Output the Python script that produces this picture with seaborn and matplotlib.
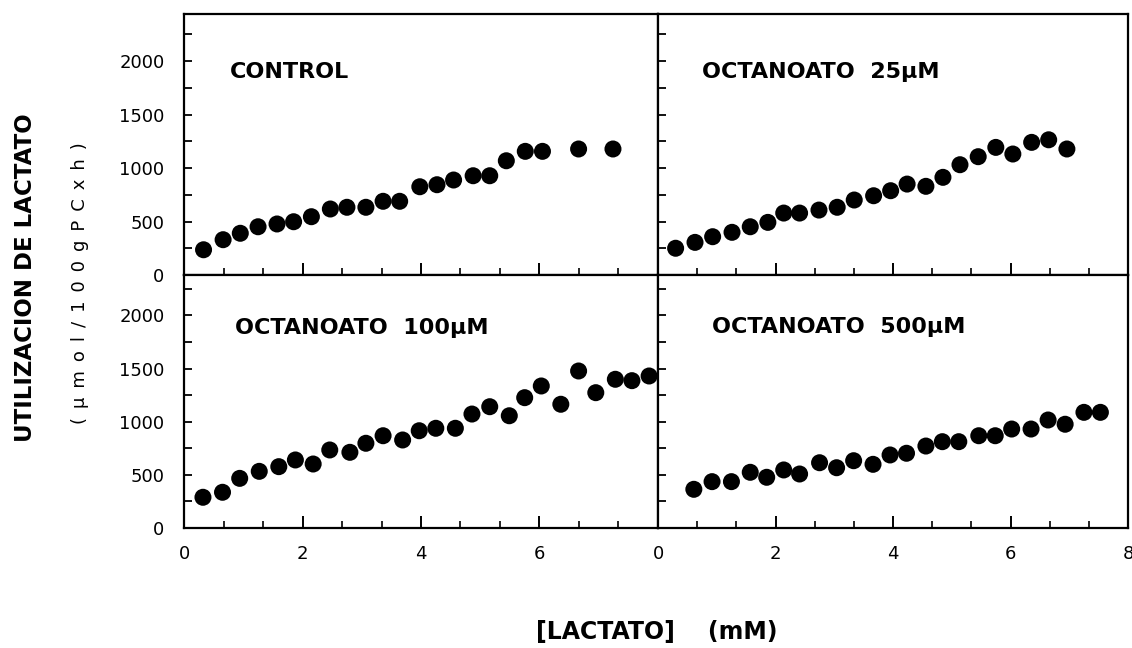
import matplotlib
matplotlib.use("Agg")
import matplotlib.pyplot as plt
import seaborn as sns
import numpy as np
import pandas as pd
from matplotlib.ticker import MultipleLocator, FixedLocator

sns.set_theme(style="white")
plt.rcParams['font.family'] = ['DejaVu Sans']

# ---- data ----
control_x = [0.33, 0.66, 0.95, 1.25, 1.57, 1.85, 2.15, 2.47, 2.75, 3.07, 3.36, 3.64,
             3.98, 4.27, 4.55, 4.88, 5.16, 5.44, 5.76, 6.05, 6.66, 7.24]
control_y = [236, 330, 390, 451, 477, 498, 545, 617, 633, 633, 689, 689,
             825, 844, 888, 928, 928, 1068, 1156, 1156, 1178, 1178]

oct25_x = [0.30, 0.63, 0.93, 1.26, 1.57, 1.87, 2.14, 2.41, 2.74, 3.05, 3.34, 3.67,
           3.96, 4.24, 4.56, 4.85, 5.14, 5.45, 5.75, 6.04, 6.36, 6.65, 6.96]
oct25_y = [250, 305, 358, 399, 451, 492, 579, 579, 607, 633, 701, 741,
           788, 850, 829, 913, 1031, 1106, 1193, 1131, 1240, 1264, 1178]

oct100_x = [0.32, 0.65, 0.94, 1.27, 1.60, 1.88, 2.18, 2.46, 2.80, 3.07, 3.36, 3.69,
            3.97, 4.25, 4.58, 4.86, 5.16, 5.49, 5.75, 6.03, 6.36, 6.66, 6.95, 7.28,
            7.56, 7.85]
oct100_y = [289, 336, 467, 533, 577, 640, 602, 734, 712, 797, 868, 828,
            915, 938, 938, 1072, 1141, 1056, 1226, 1336, 1164, 1477, 1273, 1399,
            1386, 1430]

oct500_x = [0.61, 0.92, 1.25, 1.57, 1.85, 2.14, 2.41, 2.75, 3.04, 3.33, 3.66, 3.95,
            4.23, 4.56, 4.84, 5.12, 5.46, 5.74, 6.02, 6.35, 6.64, 6.93, 7.25, 7.53]
oct500_y = [364, 436, 436, 524, 477, 546, 508, 614, 567, 633, 599, 687,
            703, 771, 812, 812, 868, 868, 931, 931, 1016, 976, 1088, 1088]

panel_titles = ["CONTROL", "OCTANOATO  25\u00b5M", "OCTANOATO  100\u00b5M", "OCTANOATO  500\u00b5M"]
y_ticks = [0, 500, 1000, 1500, 2000]
x_ticks_left = [0, 2, 4, 6]
x_ticks_right = [0, 2, 4, 6, 8]

W, H = 1132, 648
fig = plt.figure(figsize=(W / 100, H / 100), dpi=100)

def fx(px):
    return px / W

def fy(py):
    return 1 - py / H

L, M, R = 184, 658, 1128
T, MID, B = 14, 275, 528

axes_specs = [
    # (left, right, top, bottom, ymax)
    (L, M, T, MID, 2440),
    (M, R, T, MID, 2440),
    (L, M, MID, B, 2380),
    (M, R, MID, B, 2380),
]
datasets = [(control_x, control_y), (oct25_x, oct25_y), (oct100_x, oct100_y), (oct500_x, oct500_y)]
title_pos = [(0.097, 0.755), (0.094, 0.755), (0.108, 0.768), (0.115, 0.772)]

for i, ((l, r, t, b, ymax), (xs, ys), title, tp) in enumerate(zip(axes_specs, datasets, panel_titles, title_pos)):
    ax = fig.add_axes([fx(l), fy(b), (r - l) / W, (b - t) / H])
    df = pd.DataFrame({"x": xs, "y": ys})
    sns.scatterplot(data=df, x="x", y="y", ax=ax, color="black", s=150,
                    edgecolor="none", linewidth=0, legend=False, zorder=3)
    ax.set_xlim(0, 8)
    ax.set_ylim(0, ymax)
    ax.set_xlabel("")
    ax.set_ylabel("")
    for sp in ax.spines.values():
        sp.set_linewidth(1.6)
        sp.set_color("black")
    ax.xaxis.set_major_locator(FixedLocator([0, 2, 4, 6, 8]))
    ax.xaxis.set_minor_locator(MultipleLocator(2 / 3))
    ax.yaxis.set_major_locator(FixedLocator(y_ticks))
    ax.yaxis.set_minor_locator(MultipleLocator(250))
    ax.tick_params(axis="both", which="both", direction="in", color="black",
                   bottom=True, left=True, top=False, right=False,
                   labelsize=13, labelcolor="black")
    ax.tick_params(axis="x", which="major", length=9, width=1.4, pad=12)
    ax.tick_params(axis="x", which="minor", length=5, width=1.2)
    ax.tick_params(axis="y", which="major", length=6, width=1.3, pad=14)
    ax.tick_params(axis="y", which="minor", length=6, width=1.3)
    if i in (0, 2):
        ax.set_yticks(y_ticks)
        ax.set_yticklabels([str(v) for v in y_ticks])
    else:
        ax.set_yticklabels([])
    if i == 2:
        ax.set_xticks([0, 2, 4, 6, 8])
        ax.set_xticklabels([str(v) for v in x_ticks_left] + [""])
    elif i == 3:
        ax.set_xticks([0, 2, 4, 6, 8])
        ax.set_xticklabels([str(v) for v in x_ticks_right])
    else:
        ax.set_xticklabels([])
    ax.text(tp[0], tp[1], title, transform=ax.transAxes, fontsize=16,
            fontweight="bold", color="black", ha="left", va="baseline")
    ax.set_facecolor("white")

fig.text(fx(26), fy(278), "UTILIZACION DE LACTATO", rotation=90, fontsize=16.5,
         fontweight="bold", ha="center", va="center", color="black")
ylab2 = "\u2002".join("(\u00b5mol/100gPCxh)")
fig.text(fx(80), fy(283), ylab2, rotation=90, fontsize=13,
         ha="center", va="center", color="black")
fig.text(fx(657), fy(632), "[LACTATO]    (mM)", fontsize=17, fontweight="bold",
         ha="center", va="center", color="black")

fig.savefig("out.png", dpi=100, facecolor="white")
